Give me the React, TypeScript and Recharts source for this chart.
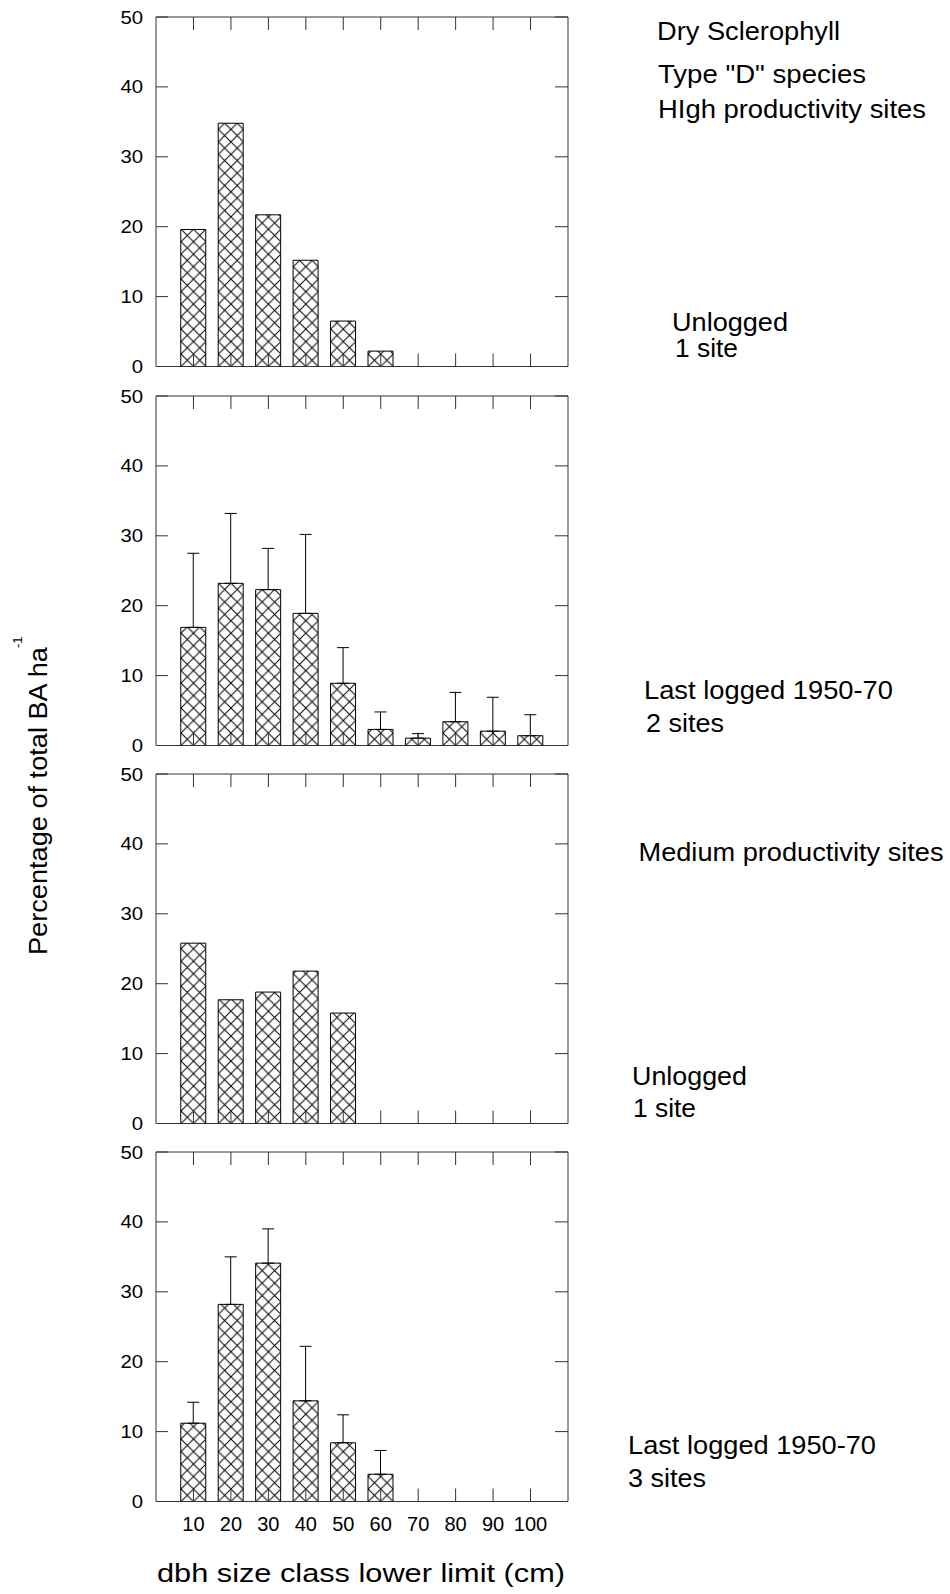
import React from "react";
import { ComposedChart, Bar, Line, XAxis, YAxis, ErrorBar } from "recharts";

// dbh size class lower limits (cm)
const dbhClasses = ["10", "20", "30", "40", "50", "60", "70", "80", "90", "100"];

// % of total BA per ha
const highUnlogged = [19.6, 34.8, 21.7, 15.2, 6.5, 2.2, 0, 0, 0, 0];
const highLogged = [16.9, 23.2, 22.3, 18.9, 8.9, 2.3, 1.05, 3.4, 2.05, 1.4];
const highLoggedErr = [10.6, 10.0, 5.9, 11.3, 5.1, 2.5, 0.65, 4.2, 4.85, 3.0];
const medUnlogged = [25.8, 17.7, 18.8, 21.8, 15.8, 0, 0, 0, 0, 0];
const medLogged = [11.2, 28.2, 34.1, 14.4, 8.4, 3.9, 0, 0, 0, 0];
const medLoggedErr = [3.0, 6.8, 4.9, 7.8, 4.0, 3.4, null, null, null, null];

const yTicks = [0, 10, 20, 30, 40, 50];

const FONT = '"Liberation Sans", Arial, Helvetica, sans-serif';
const INK = "#333";
const CHART_W = 600;
const PLOT_LEFT = 156;
const PLOT_RIGHT = 568;
const PLOT_H = 349.5;
const TOP_PAD = 20;
const Y_AXIS_W = 56;
const BAND_PAD = 18.75;
const HATCH = 12.48;
const TICK = 13;

// text blocks beside the panels
const notes = [
  { text: "Dry Sclerophyll", x: 657, y: 40, w: 183 },
  { text: 'Type "D" species', x: 658, y: 82.5, w: 208 },
  { text: "HIgh productivity sites", x: 658, y: 118, w: 268 },
  { text: "Unlogged", x: 672, y: 331, w: 116 },
  { text: "1 site", x: 675, y: 356.5, w: 63 },
  { text: "Last logged 1950-70", x: 644, y: 699, w: 249 },
  { text: "2 sites", x: 646, y: 731.5, w: 78 },
  { text: "Medium productivity sites", x: 638.5, y: 860.5, w: 305 },
  { text: "Unlogged", x: 632, y: 1085, w: 115 },
  { text: "1 site", x: 633, y: 1117, w: 63 },
  { text: "Last logged 1950-70", x: 628, y: 1454, w: 248 },
  { text: "3 sites", x: 628, y: 1486.5, w: 78 },
];

// inward tick + label on the left frame
function LeftTick(props: any) {
  const { y, payload } = props;
  return (
    <g>
      <line x1={PLOT_LEFT} x2={PLOT_LEFT + TICK - 1} y1={y} y2={y} stroke={INK} />
      <g transform={`translate(${PLOT_LEFT - 13},${y})`}>
        <text textAnchor="end" dy={6.5} fontSize={18} fill="#000" fontFamily={FONT} transform="scale(1.13,1)">
          {payload.value}
        </text>
      </g>
    </g>
  );
}

function RightTick(props: any) {
  const { y } = props;
  return <line x1={PLOT_RIGHT - TICK} x2={PLOT_RIGHT} y1={y} y2={y} stroke={INK} />;
}

function BottomTick(props: any) {
  const { x, payload, bottom, labels } = props;
  return (
    <g>
      <line x1={x} x2={x} y1={bottom - TICK} y2={bottom} stroke={INK} />
      {labels && (
        <text x={x} y={bottom + 29.5} textAnchor="middle" fontSize={20} fill="#000" fontFamily={FONT}>
          {payload.value}
        </text>
      )}
    </g>
  );
}

function TopTick(props: any) {
  const { x } = props;
  return <line x1={x} x2={x} y1={TOP_PAD} y2={TOP_PAD + TICK} stroke={INK} />;
}

function Panel({
  id,
  values,
  errors,
  top,
  xLabels,
}: {
  id: string;
  values: number[];
  errors?: (number | null)[];
  top: number;
  xLabels?: boolean;
}) {
  const rows = dbhClasses.map((dbh, i) => ({
    dbh,
    pct: values[i],
    err: errors && errors[i] != null ? [0, errors[i]] : null,
  }));
  // axes of zero size are not drawn, so the frame axes get 1px
  const axisH = xLabels ? 40 : 1;
  const bottom = xLabels ? 5 : 9;
  const height = TOP_PAD + PLOT_H + axisH + bottom;
  const plotBottom = TOP_PAD + PLOT_H;
  const h = HATCH;

  return (
    <div style={{ position: "absolute", left: 0, top: top - TOP_PAD }}>
      <ComposedChart
        width={CHART_W}
        height={height}
        data={rows}
        barSize={25}
        margin={{ top: TOP_PAD - 1, right: CHART_W - PLOT_RIGHT - 1, bottom, left: PLOT_LEFT - Y_AXIS_W }}
      >
        <defs>
          <pattern
            id={`hatch-${id}`}
            patternUnits="userSpaceOnUse"
            width={h}
            height={h}
            x={PLOT_LEFT + 2 * BAND_PAD}
            y={plotBottom}
          >
            <rect width={h} height={h} fill="#fff" />
            <path
              d={`M-2,-2L${h + 2},${h + 2}M${h + 2},-2L-2,${h + 2}`}
              stroke="#000"
              strokeWidth={1}
              fill="none"
            />
          </pattern>
        </defs>
        <Bar dataKey="pct" fill={`url(#hatch-${id})`} stroke="#000" strokeWidth={1} isAnimationActive={false}>
          {errors && (
            <ErrorBar dataKey="err" direction="y" width={6} stroke="#000" strokeWidth={1} isAnimationActive={false} />
          )}
        </Bar>
        {/* invisible series so the top and right frame axes get scales */}
        <Line
          xAxisId="top"
          yAxisId="right"
          dataKey="pct"
          stroke="none"
          dot={false}
          activeDot={false}
          legendType="none"
          isAnimationActive={false}
        />
        <XAxis
          dataKey="dbh"
          interval={0}
          padding={{ left: BAND_PAD, right: BAND_PAD }}
          height={axisH}
          tickLine={false}
          axisLine={{ stroke: INK }}
          tick={<BottomTick bottom={plotBottom} labels={!!xLabels} />}
        />
        <XAxis
          xAxisId="top"
          orientation="top"
          dataKey="dbh"
          interval={0}
          padding={{ left: BAND_PAD, right: BAND_PAD }}
          height={1}
          tickLine={false}
          axisLine={{ stroke: INK }}
          tick={<TopTick />}
        />
        <YAxis
          type="number"
          domain={[0, 50]}
          ticks={yTicks}
          interval={0}
          width={Y_AXIS_W}
          tickLine={false}
          axisLine={{ stroke: INK }}
          tick={<LeftTick />}
        />
        <YAxis
          yAxisId="right"
          orientation="right"
          type="number"
          domain={[0, 50]}
          ticks={yTicks}
          interval={0}
          width={1}
          tickLine={false}
          axisLine={{ stroke: INK }}
          tick={<RightTick />}
        />
      </ComposedChart>
    </div>
  );
}

export default function App() {
  return (
    <div
      style={{
        position: "absolute",
        left: 0,
        top: 0,
        width: 950,
        height: 1594,
        background: "#fff",
        fontFamily: FONT,
      }}
    >
      <Panel id="p1" values={highUnlogged} top={17} />
      <Panel id="p2" values={highLogged} errors={highLoggedErr} top={396} />
      <Panel id="p3" values={medUnlogged} top={774} />
      <Panel id="p4" values={medLogged} errors={medLoggedErr} top={1152} xLabels />

      <svg
        width={950}
        height={1594}
        style={{ position: "absolute", left: 0, top: 0, pointerEvents: "none" }}
        fontFamily={FONT}
      >
        {notes.map((n, i) => (
          <text key={i} x={n.x} y={n.y} fontSize={25} fill="#000" textLength={n.w} lengthAdjust="spacingAndGlyphs">
            {n.text}
          </text>
        ))}
        <text
          x={46.7}
          y={955}
          transform="rotate(-90 46.7 955)"
          fontSize={25}
          fill="#000"
          textLength={308}
          lengthAdjust="spacingAndGlyphs"
        >
          Percentage of total BA ha
        </text>
        <text x={22} y={648} transform="rotate(-90 22 648)" fontSize={13} fill="#000">
          -1
        </text>
        <text
          x={361}
          y={1582}
          textAnchor="middle"
          fontSize={26}
          fill="#000"
          textLength={408}
          lengthAdjust="spacingAndGlyphs"
        >
          dbh size class lower limit (cm)
        </text>
      </svg>
    </div>
  );
}
